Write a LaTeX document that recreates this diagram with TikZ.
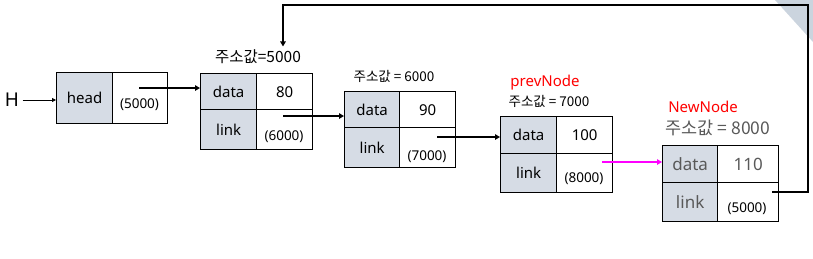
\documentclass[tikz,border=0pt]{standalone}
\usepackage{fontspec}
\setmainfont{Noto Sans}
\newfontfamily\kr{Noto Sans CJK KR}
\usetikzlibrary{arrows.meta}
\definecolor{keyfill}{RGB}{214,220,229}
\definecolor{cornerfill}{RGB}{203,212,222}
\definecolor{tagred}{RGB}{255,0,0}
\definecolor{newlink}{RGB}{255,0,255}
\definecolor{newtext}{RGB}{89,89,89}
\tikzset{
  cell/.style={draw=black,line width=1.3pt,inner sep=0pt,anchor=north west,font=\fontsize{15}{17}\selectfont},
  keycell/.style={cell,fill=keyfill},
  addr/.style={font=\fontsize{13.5}{16}\selectfont},
  kaddr/.style={font=\kr\fontsize{13.5}{16}\selectfont},
  tag/.style={text=tagred,font=\fontsize{15}{18}\selectfont},
  ptr/.style={-{Triangle[length=5pt,width=5.5pt]},line width=1.5pt},
}

\begin{document}
\begin{tikzpicture}[x=1pt,y=1pt]
  \useasboundingbox (0,0) rectangle (813,-258);
  \fill[cornerfill] (775,0) -- (813,0) -- (813,-42) -- cycle;
  % head
  \node[font=\fontsize{19}{22}\selectfont] (H) at (12,-100) {H};
  \node[keycell,minimum width=56,minimum height=51] (hd) at (56,-72) {head};
  \node[cell,minimum width=55,minimum height=51] (hp) at (112,-72) {};
  \node[addr] (ha) at (139.5,-105) {(5000)};
  % node at 5000
  \node[kaddr,font=\kr\fontsize{15.5}{18}\selectfont] (k1) at (258,-57) {주소값=5000};
  \node[keycell,minimum width=56,minimum height=36] (n1d) at (200,-73) {data};
  \node[cell,minimum width=56,minimum height=36] (n1v) at (256,-73) {80};
  \node[keycell,minimum width=56,minimum height=40] (n1l) at (200,-109) {link};
  \node[cell,minimum width=56,minimum height=40] (n1p) at (256,-109) {};
  \node[addr] (a1) at (284,-137) {(6000)};
  % node at 6000
  \node[kaddr] (k2) at (394,-76) {주소값 = 6000};
  \node[keycell,minimum width=55,minimum height=36] (n2d) at (344,-91) {data};
  \node[cell,minimum width=56,minimum height=36] (n2v) at (399,-91) {90};
  \node[keycell,minimum width=55,minimum height=40] (n2l) at (344,-127) {link};
  \node[cell,minimum width=56,minimum height=40] (n2p) at (399,-127) {};
  \node[addr] (a2) at (427,-157) {(7000)};
  % prevNode at 7000
  \node[tag] (pv) at (545,-83) {prevNode};
  \node[kaddr] (k3) at (549,-101) {주소값 = 7000};
  \node[keycell,minimum width=56,minimum height=37] (n3d) at (500,-116) {data};
  \node[cell,minimum width=56,minimum height=37] (n3v) at (556,-116) {100};
  \node[keycell,minimum width=56,minimum height=39] (n3l) at (500,-153) {link};
  \node[cell,minimum width=56,minimum height=39] (n3p) at (556,-153) {};
  \node[addr] (a3) at (584,-179) {(8000)};
  % NewNode at 8000
  \node[tag] (nw) at (703,-107) {NewNode};
  \node[kaddr,text=newtext,font=\kr\fontsize{17.5}{20}\selectfont] (k4) at (718,-128) {주소값 = 8000};
  \node[keycell,text=newtext,font=\fontsize{17}{19}\selectfont,minimum width=55,minimum height=37] (n4d) at (662,-145) {data};
  \node[cell,text=newtext,font=\fontsize{17}{19}\selectfont,minimum width=61,minimum height=37] (n4v) at (717,-145) {110};
  \node[keycell,text=newtext,font=\fontsize{17}{19}\selectfont,minimum width=55,minimum height=39] (n4l) at (662,-182) {link};
  \node[cell,minimum width=61,minimum height=39] (n4p) at (717,-182) {};
  \node[addr] (a4) at (747,-209) {(5000)};
  % pointers
  \coordinate (c0) at (139,-88);
  \coordinate (c1) at (283,-116);
  \coordinate (c2) at (437,-137);
  \coordinate (c3) at (602,-162);
  \coordinate (c4) at (772,-192);
  \coordinate (r1) at (808,-5);
  \coordinate (r0) at (283,-5);
  \draw[-{Triangle[length=4pt,width=4pt]},line width=0.8pt] (H.east) -- (H.east -| hd.west);
  \draw[ptr] (c0) -- (c0 -| n1d.west);
  \draw[ptr] (c1) -- (c1 -| n2d.west);
  \draw[ptr] (c2) -- (c2 -| n3d.west);
  \draw[ptr,draw=newlink,fill=newlink] (c3) -- (c3 -| n4d.west);
  \draw[ptr] (c4) -- (r1 |- c4) -- (r1) -- (r0) -- (r0 |- k1.north);
\end{tikzpicture}
\end{document}
